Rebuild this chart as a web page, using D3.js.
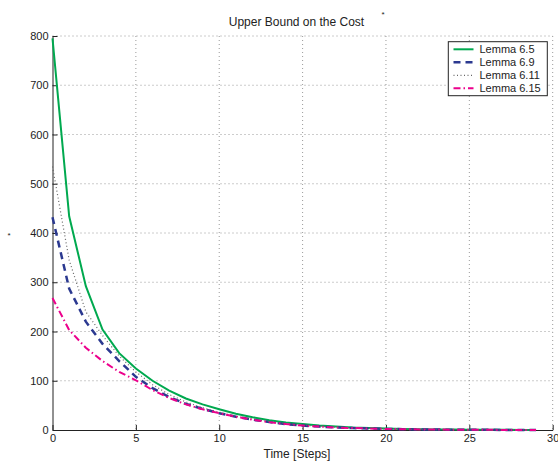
<!DOCTYPE html>
<html>
<head>
<meta charset="utf-8">
<script src="https://d3js.org/d3.v7.min.js"></script>
<style>
  body { margin: 0; background: #fff; }
  svg { display: block; font-family: "Liberation Sans", Arial, Helvetica, sans-serif; }
</style>
</head>
<body>
<script>
// Steps 0..29
const steps = d3.range(0, 30);

const lemma65  = [795, 434, 292, 204, 156, 125, 100, 80, 64, 52, 42, 33, 26, 20, 15, 12, 9, 7, 5, 4, 3, 2.2, 1.6, 1.2, 0.9, 0.6, 0.4, 0.3, 0.2, 0.1];
const lemma69  = [432, 287, 220, 175, 140, 108, 85, 67, 53, 43, 34, 27, 21, 16, 12, 9, 7, 5, 4, 3, 2.2, 1.6, 1.2, 0.9, 0.6, 0.4, 0.3, 0.2, 0.1, 0.1];
const lemma611 = [535, 345, 240, 192, 150, 118, 92, 72, 57, 45, 36, 28, 22, 17, 13, 10, 7.5, 5.5, 4, 3, 2.2, 1.6, 1.2, 0.9, 0.6, 0.4, 0.3, 0.2, 0.1, 0.1];
const lemma615 = [268, 203, 167, 140, 118, 101, 81, 65, 52, 42, 34, 27, 21, 16, 12, 9, 7, 5, 4, 3, 2.2, 1.6, 1.2, 0.9, 0.6, 0.4, 0.3, 0.2, 0.1, 0.1];

const xTicks = [0, 5, 10, 15, 20, 25, 30];
const yTicks = [0, 100, 200, 300, 400, 500, 600, 700, 800];

const series = [
  { name: "Lemma 6.5",  values: lemma65,  color: "#00a94f", width: 2,   dash: null },
  { name: "Lemma 6.9",  values: lemma69,  color: "#2b3990", width: 2.5, dash: "7,5" },
  { name: "Lemma 6.11", values: lemma611, color: "#666666", width: 1.2, dash: "1,2.5" },
  { name: "Lemma 6.15", values: lemma615, color: "#ec008c", width: 2,   dash: "7,3,1.5,3" }
];

const W = 558, H = 463;
const plot = { left: 52.5, right: 552.7, top: 36, bottom: 430 };

const svg = d3.select("body").append("svg")
  .attr("width", W)
  .attr("height", H);

const x = d3.scaleLinear().domain([0, 30]).range([plot.left, plot.right]);
const y = d3.scaleLinear().domain([0, 800]).range([plot.bottom, plot.top]);

// grid
svg.append("g")
  .selectAll("line")
  .data(xTicks.slice(1))
  .join("line")
  .attr("x1", d => x(d)).attr("x2", d => x(d))
  .attr("y1", plot.top).attr("y2", plot.bottom)
  .attr("stroke", "#808080").attr("stroke-width", 0.8)
  .attr("stroke-dasharray", "1,3");

svg.append("g")
  .selectAll("line")
  .data(yTicks.slice(1))
  .join("line")
  .attr("x1", plot.left).attr("x2", plot.right)
  .attr("y1", d => y(d)).attr("y2", d => y(d))
  .attr("stroke", "#808080").attr("stroke-width", 0.8)
  .attr("stroke-dasharray", "1,3");

// axes (ticks pointing inwards)
const xAxis = svg.append("g")
  .attr("transform", `translate(0,${plot.bottom})`)
  .call(d3.axisBottom(x).tickValues(xTicks).tickSizeInner(-5).tickSizeOuter(0).tickPadding(4));

const yAxis = svg.append("g")
  .attr("transform", `translate(${plot.left},0)`)
  .call(d3.axisLeft(y).tickValues(yTicks).tickSizeInner(-5).tickSizeOuter(0).tickPadding(4));

[xAxis, yAxis].forEach(a => {
  a.select(".domain").attr("stroke", "#222");
  a.selectAll(".tick line").attr("stroke", "#222");
  a.selectAll(".tick text")
    .attr("font-size", 11)
    .attr("fill", "#222")
    .attr("font-family", "Liberation Sans, Arial, sans-serif");
});

// lines
const line = d3.line()
  .x((d, i) => x(steps[i]))
  .y(d => y(d));

series.forEach(s => {
  svg.append("path")
    .datum(s.values)
    .attr("fill", "none")
    .attr("stroke", s.color)
    .attr("stroke-width", s.width)
    .attr("stroke-dasharray", s.dash)
    .attr("d", line);
});

// title and labels
svg.append("text")
  .attr("x", 296.5).attr("y", 26)
  .attr("text-anchor", "middle")
  .attr("font-size", 12)
  .attr("fill", "#222")
  .text("Upper Bound on the Cost");

svg.append("text")
  .attr("x", 383).attr("y", 17)
  .attr("text-anchor", "middle")
  .attr("font-size", 8)
  .attr("fill", "#222")
  .text("*");

svg.append("text")
  .attr("x", 9).attr("y", 238)
  .attr("text-anchor", "middle")
  .attr("font-size", 8)
  .attr("fill", "#222")
  .text("*");

svg.append("text")
  .attr("x", 297).attr("y", 458)
  .attr("text-anchor", "middle")
  .attr("font-size", 12)
  .attr("fill", "#222")
  .text("Time [Steps]");

// legend
const lg = svg.append("g");
lg.append("rect")
  .attr("x", 448.3).attr("y", 41.7)
  .attr("width", 99).attr("height", 54)
  .attr("fill", "#fff")
  .attr("stroke", "#222").attr("stroke-width", 1);

series.forEach((s, i) => {
  const yy = 49.3 + i * 13;
  lg.append("line")
    .attr("x1", 453.5).attr("x2", 473.5)
    .attr("y1", yy).attr("y2", yy)
    .attr("stroke", s.color)
    .attr("stroke-width", s.width)
    .attr("stroke-dasharray", s.dash);
  lg.append("text")
    .attr("x", 479.5).attr("y", yy)
    .attr("dy", "0.35em")
    .attr("font-size", 11)
    .attr("fill", "#222")
    .text(s.name);
});
</script>
</body>
</html>
